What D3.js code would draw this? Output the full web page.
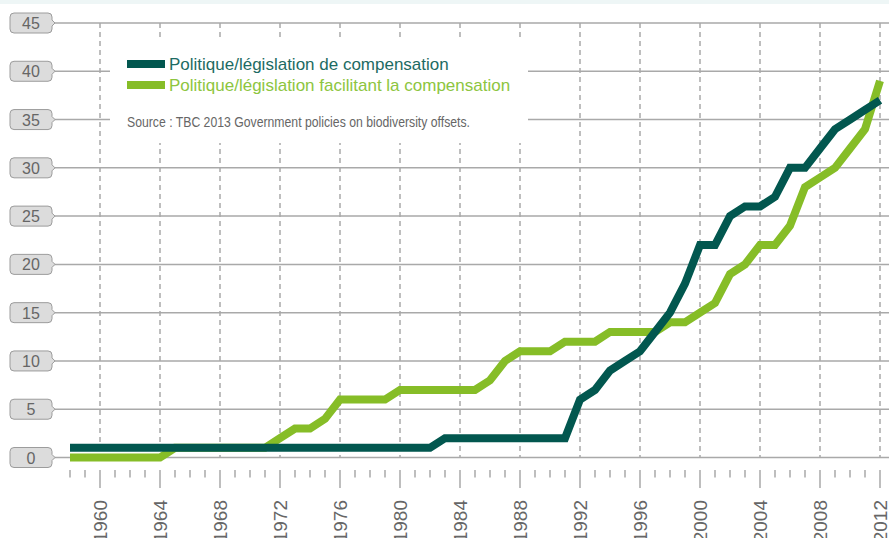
<!DOCTYPE html>
<html>
<head>
<meta charset="utf-8">
<script src="https://cdn.jsdelivr.net/npm/d3@7"></script>
<style>
    body { margin: 0; background: #fff; }
    svg { display: block; }
</style>
</head>
<body>
<div id="chart"></div>
<script>
const years = d3.range(1958, 2013);

// Politique/législation de compensation
const compensation = [
    1, 1, 1, 1, 1, 1, 1, 1, 1, 1,      // 1958-1967
    1, 1, 1, 1, 1, 1, 1, 1, 1, 1,      // 1968-1977
    1, 1, 1, 1, 1, 2, 2, 2, 2, 2,      // 1978-1987
    2, 2, 2, 2, 6, 7, 9, 10, 11, 13,   // 1988-1997
    15, 18, 22, 22, 25, 26, 26, 27, 30, 30, // 1998-2007
    32, 34, 35, 36, 37                 // 2008-2012
];

// Politique/législation facilitant la compensation
const facilitant = [
    0, 0, 0, 0, 0, 0, 0, 1, 1, 1,      // 1958-1967
    1, 1, 1, 1, 2, 3, 3, 4, 6, 6,      // 1968-1977
    6, 6, 7, 7, 7, 7, 7, 7, 8, 10,     // 1978-1987
    11, 11, 11, 12, 12, 12, 13, 13, 13, 13, // 1988-1997
    14, 14, 15, 16, 19, 20, 22, 22, 24, 28, // 1998-2007
    29, 30, 32, 34, 39                 // 2008-2012
];

const yTicks = [0, 5, 10, 15, 20, 25, 30, 35, 40, 45];
const xLabelYears = d3.range(1960, 2013, 4);

const seriesNames = [
    "Politique/législation de compensation",
    "Politique/législation facilitant la compensation"
];
const sourceText = "Source : TBC 2013 Government policies on biodiversity offsets.";

const WIDTH = 889, HEIGHT = 538;
const DARK = "#02574f", LIGHT = "#86bd27";
const GRID = "#a9a9a9";

const svg = d3.select("#chart").append("svg")
    .attr("width", WIDTH)
    .attr("height", HEIGHT);

// light band at the very top
svg.append("rect")
    .attr("x", 0).attr("y", 0)
    .attr("width", WIDTH).attr("height", 4)
    .attr("fill", "#eef6f6");

const xScale = d3.scaleLinear().domain([1958, 2012]).range([70, 880]);
const yScale = d3.scaleLinear().domain([0, 45]).range([457.5, 23]);

// vertical dashed grid
svg.append("g")
    .selectAll("line")
    .data(xLabelYears)
    .join("line")
    .attr("x1", d => xScale(d)).attr("x2", d => xScale(d))
    .attr("y1", yScale(45)).attr("y2", yScale(0))
    .attr("stroke", GRID)
    .attr("stroke-width", 1.5)
    .attr("stroke-dasharray", "5,4");

// horizontal grid + label boxes
const yAxis = svg.append("g");
yAxis.selectAll("line")
    .data(yTicks)
    .join("line")
    .attr("x1", 54).attr("x2", WIDTH)
    .attr("y1", d => yScale(d)).attr("y2", d => yScale(d))
    .attr("stroke", GRID)
    .attr("stroke-width", 1.5);

const boxes = yAxis.selectAll("g.ybox")
    .data(yTicks)
    .join("g")
    .attr("class", "ybox")
    .attr("transform", d => "translate(0," + yScale(d) + ")");

boxes.append("path")
    .attr("d", "M14,-10 H48 Q52,-10 52,-6 V-3 L55,0 L52,3 V6 Q52,10 48,10 H14 Q10,10 10,6 V-6 Q10,-10 14,-10 Z")
    .attr("fill", "#dcdcdc")
    .attr("stroke", "#9c9c9c")
    .attr("stroke-width", 1);

boxes.append("text")
    .attr("x", 31)
    .attr("y", 6)
    .attr("text-anchor", "middle")
    .attr("font-family", "Liberation Sans, Arial, sans-serif")
    .attr("font-size", 16)
    .attr("fill", "#666")
    .text(d => d);

// x ticks below the axis
const xAxis = svg.append("g");
xAxis.selectAll("line")
    .data(years)
    .join("line")
    .attr("x1", d => xScale(d)).attr("x2", d => xScale(d))
    .attr("y1", 470)
    .attr("y2", d => (d % 4 === 0 ? 488 : 477.5))
    .attr("stroke", GRID)
    .attr("stroke-width", 1.5);

xAxis.selectAll("text")
    .data(xLabelYears)
    .join("text")
    .attr("transform", d => "translate(" + (xScale(d) + 7) + ",500) rotate(-90)")
    .attr("text-anchor", "end")
    .attr("font-family", "Liberation Sans, Arial, sans-serif")
    .attr("font-size", 19)
    .attr("fill", "#666")
    .text(d => d);

// legend panel (white, cuts the grid)
svg.append("rect")
    .attr("x", 110).attr("y", 37)
    .attr("width", 418).attr("height", 106)
    .attr("fill", "#fff");

const legend = svg.append("g");
[DARK, LIGHT].forEach((c, i) => {
    legend.append("rect")
        .attr("x", 127).attr("y", 60 + i * 21)
        .attr("width", 38).attr("height", 8)
        .attr("fill", c);
    legend.append("text")
        .attr("x", 169).attr("y", 70 + i * 21)
        .attr("font-family", "Liberation Sans, Arial, sans-serif")
        .attr("font-size", 17)
        .attr("fill", i === 0 ? "#1d6b63" : "#8dc540")
        .text(seriesNames[i]);
});
legend.append("text")
    .attr("x", 127).attr("y", 127)
    .attr("font-family", "Liberation Sans, Arial, sans-serif")
    .attr("font-size", 15)
    .attr("textLength", 343)
    .attr("lengthAdjust", "spacingAndGlyphs")
    .attr("fill", "#666")
    .text(sourceText);

// lines
const line = d3.line()
    .x((d, i) => xScale(years[i]))
    .y(d => yScale(d));

svg.append("path")
    .datum(facilitant)
    .attr("d", line)
    .attr("fill", "none")
    .attr("stroke", LIGHT)
    .attr("stroke-width", 8);

svg.append("path")
    .datum(compensation)
    .attr("d", line)
    .attr("fill", "none")
    .attr("stroke", DARK)
    .attr("stroke-width", 8);
</script>
</body>
</html>
